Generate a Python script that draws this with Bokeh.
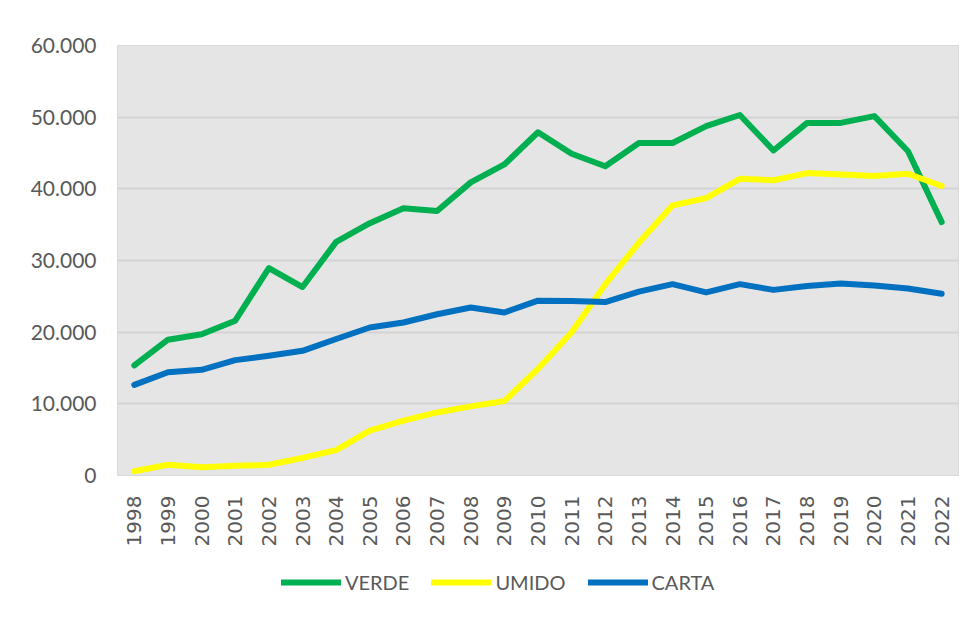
import math
from bokeh.plotting import figure
from bokeh.layouts import column
from bokeh.models import FactorRange, Range1d, FixedTicker, Legend, LegendItem
from bokeh.embed import file_html
from bokeh.resources import INLINE

years = [str(y) for y in range(1998, 2023)]
verde = [15350, 18950, 19700, 21600, 28950, 26300, 32600, 35200, 37300, 36900,
         40900, 43400, 47900, 44900, 43150, 46400, 46400, 48750, 50300, 45350,
         49200, 49200, 50150, 45250, 35350]
umido = [600, 1500, 1150, 1350, 1500, 2450, 3550, 6250, 7650, 8800,
         9650, 10400, 14900, 20000, 26700, 32500, 37700, 38700, 41400, 41200,
         42200, 42000, 41800, 42100, 40400]
carta = [12650, 14400, 14750, 16100, 16700, 17400, 19050, 20650, 21350, 22500,
         23450, 22750, 24400, 24350, 24200, 25650, 26700, 25550, 26700, 25900,
         26450, 26800, 26500, 26100, 25350]
series_names = ["VERDE", "UMIDO", "CARTA"]
series_colors = ["#00b050", "#ffff00", "#0070c0"]
y_ticks = [0, 10000, 20000, 30000, 40000, 50000, 60000]
y_tick_labels = ["0", "10.000", "20.000", "30.000", "40.000", "50.000", "60.000"]
series = [verde, umido, carta]

p = figure(x_range=FactorRange(*years), y_range=Range1d(0, 60000),
           width=967, height=555, frame_width=841, frame_height=430,
           output_backend="svg", toolbar_location=None,
           min_border_left=117, min_border_right=9, min_border_top=45,
           min_border_bottom=0)
p.background_fill_color = "#e5e5e5"
p.border_fill_color = "white"
p.outline_line_color = "#d9d9d9"
p.outline_line_width = 1

p.xgrid.grid_line_color = None
p.ygrid.grid_line_color = "#d4d4d4"
p.ygrid.grid_line_width = 2

p.yaxis.ticker = FixedTicker(ticks=y_ticks)
p.yaxis.major_label_overrides = {t: l for t, l in zip(y_ticks, y_tick_labels)}
for ax in (p.xaxis, p.yaxis):
    ax.axis_line_color = None
    ax.major_tick_line_color = None
    ax.minor_tick_line_color = None
    ax.major_label_text_color = "#595959"
p.yaxis.major_label_text_font = "Lato"
p.yaxis.major_label_text_font_size = "21px"
p.yaxis.major_label_standoff = 15
p.xaxis.major_label_text_font = "DejaVu Sans"
p.xaxis.major_label_text_font_size = "20px"
p.xaxis.major_label_orientation = math.pi / 2
p.xaxis.major_label_standoff = 14

for name, vals, col in zip(series_names, series, series_colors):
    p.line(years, vals, line_color=col, line_width=6, line_join="round", line_cap="round")

# legend strip below the chart (its lines lie outside its range, only the keys show)
lg = figure(x_range=FactorRange(*years), y_range=Range1d(-2, -1),
            width=967, height=54, output_backend="svg", toolbar_location=None,
            x_axis_type=None, y_axis_type=None,
            min_border_left=0, min_border_right=0, min_border_top=0, min_border_bottom=0)
lg.outline_line_color = None
lg.background_fill_color = "white"
lg.border_fill_color = "white"
lg.xgrid.grid_line_color = None
lg.ygrid.grid_line_color = None
items = []
for name, vals, col in zip(series_names, series, series_colors):
    r = lg.line(years, vals, line_color=col, line_width=6, line_cap="round")
    items.append(LegendItem(label=name, renderers=[r]))

legend = Legend(items=items, orientation="horizontal", location=(164, 9),
                background_fill_alpha=0, border_line_color=None,
                label_text_font="Lato", label_text_font_size="20px",
                label_text_color="#595959", glyph_width=60, glyph_height=20,
                label_height=20, label_standoff=4, spacing=22, margin=0, padding=2)
lg.add_layout(legend, "center")

layout = column(p, lg, spacing=0)
open("out.html", "w").write(file_html(layout, INLINE))
